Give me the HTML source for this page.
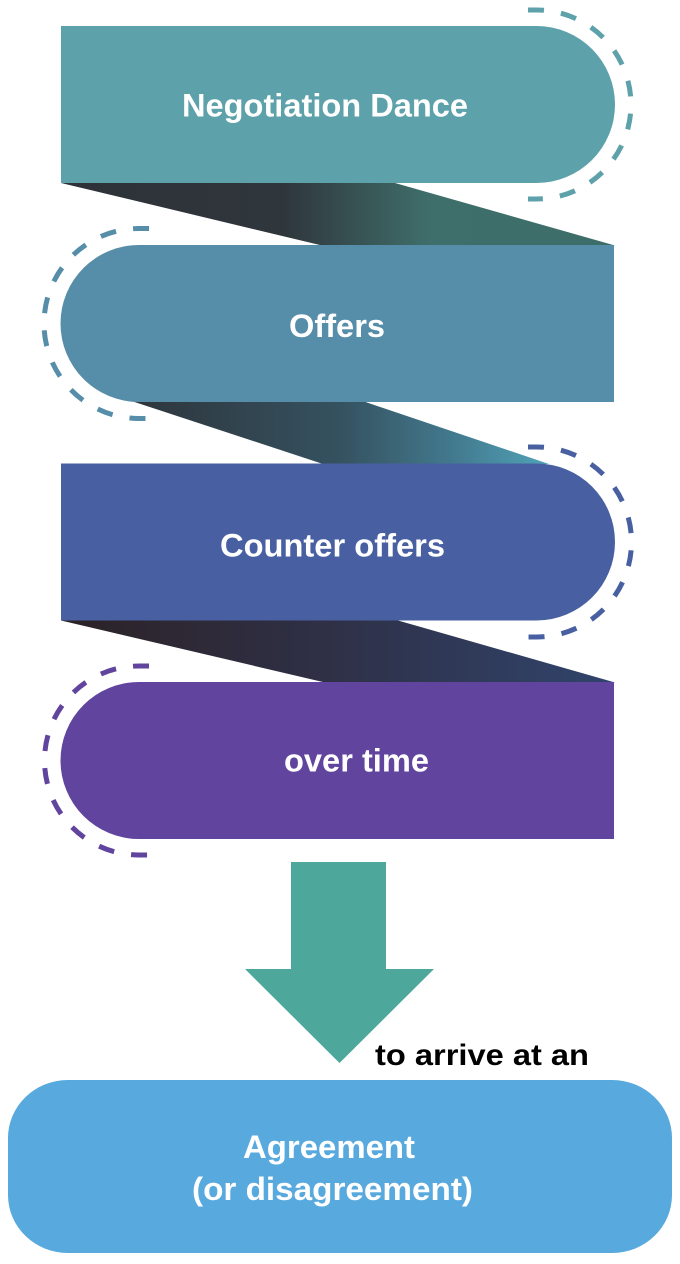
<!DOCTYPE html>
<html>
<head>
<meta charset="utf-8">
<style>
  html,body{margin:0;padding:0;background:#ffffff;}
  svg{display:block;}
  text{font-family:"Liberation Sans",Arial,sans-serif;font-weight:bold;}
</style>
</head>
<body>
<svg width="680" height="1264" viewBox="0 0 680 1264" xmlns="http://www.w3.org/2000/svg">
  <defs>
    <linearGradient id="g1" gradientUnits="userSpaceOnUse" x1="61" y1="0" x2="615" y2="0">
      <stop offset="0" stop-color="#2e3238"/>
      <stop offset="0.4" stop-color="#2f363c"/>
      <stop offset="0.67" stop-color="#3f6f6b"/>
      <stop offset="1" stop-color="#3d6d69"/>
    </linearGradient>
    <linearGradient id="g2" gradientUnits="userSpaceOnUse" x1="133" y1="0" x2="549" y2="0">
      <stop offset="0" stop-color="#2e353c"/>
      <stop offset="0.5" stop-color="#355260"/>
      <stop offset="0.78" stop-color="#437b90"/>
      <stop offset="1" stop-color="#51a3b8"/>
    </linearGradient>
    <linearGradient id="g3" gradientUnits="userSpaceOnUse" x1="61" y1="0" x2="615" y2="0">
      <stop offset="0" stop-color="#2c2226"/>
      <stop offset="0.5" stop-color="#2f3148"/>
      <stop offset="1" stop-color="#30446c"/>
    </linearGradient>
  </defs>

  <!-- ribbons -->
  <polygon points="61,183 395,183 615,245.5 322,245.5" fill="url(#g1)"/>
  <polygon points="133,401.5 364,401.5 549,464 323,464" fill="url(#g2)"/>
  <polygon points="61,620.5 398,620.5 615,682.5 325,682.5" fill="url(#g3)"/>

  <!-- boxes -->
  <path d="M61,26 H536.5 A78.5,78.5 0 0 1 536.5,183 H61 Z" fill="#5da1aa"/>
  <path d="M614,245 H139 A78.5,78.5 0 0 0 139,402 H614 Z" fill="#568da8"/>
  <path d="M61,463.5 H536.5 A78.5,78.5 0 0 1 536.5,620.5 H61 Z" fill="#4860a2"/>
  <path d="M614,682 H139 A78.5,78.5 0 0 0 139,839 H614 Z" fill="#61449d"/>

  <!-- dashed arcs -->
  <path d="M528,10 H536.5 A94.5,94.5 0 0 1 536.5,199 H528" fill="none" stroke="#5da1aa" stroke-width="5" stroke-dasharray="16 17.2"/>
  <path d="M149,228.5 H139 A95,95 0 0 0 139,418.5 H149" fill="none" stroke="#568da8" stroke-width="5" stroke-dasharray="16 17.2"/>
  <path d="M528,447 H536.5 A95,95 0 0 1 536.5,637 H528" fill="none" stroke="#4860a2" stroke-width="5" stroke-dasharray="16 17.2"/>
  <path d="M149,666 H139 A94.5,94.5 0 0 0 139,855 H149" fill="none" stroke="#61449d" stroke-width="5" stroke-dasharray="16 17.2"/>

  <!-- labels -->
  <text x="182" y="116.5" font-size="32" fill="#ffffff" textLength="286" lengthAdjust="spacingAndGlyphs">Negotiation Dance</text>
  <text x="289" y="337" font-size="32" fill="#ffffff" textLength="96" lengthAdjust="spacingAndGlyphs">Offers</text>
  <text x="220" y="556.5" font-size="32" fill="#ffffff" textLength="225" lengthAdjust="spacingAndGlyphs">Counter offers</text>
  <text x="284" y="771.5" font-size="32" fill="#ffffff" textLength="145" lengthAdjust="spacingAndGlyphs">over time</text>

  <!-- arrow -->
  <polygon points="291,862 386,862 386,969 434,969 339.5,1063 245,969 291,969" fill="#4da79b"/>
  <text x="375" y="1065" font-size="30" fill="#000000" textLength="214" lengthAdjust="spacingAndGlyphs">to arrive at an</text>

  <!-- agreement box -->
  <rect x="8" y="1080" width="664" height="173" rx="60" ry="58" fill="#58a9dd"/>
  <text x="243" y="1158" font-size="32" fill="#ffffff" textLength="172" lengthAdjust="spacingAndGlyphs">Agreement</text>
  <text x="192" y="1200" font-size="32" fill="#ffffff" textLength="281" lengthAdjust="spacingAndGlyphs">(or disagreement)</text>
</svg>
</body>
</html>
